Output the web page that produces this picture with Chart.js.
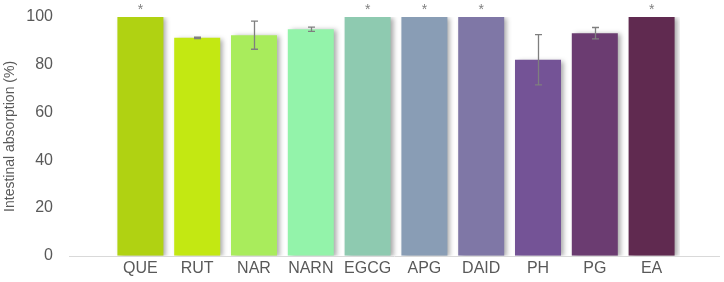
<!DOCTYPE html>
<html>
<head>
<meta charset="utf-8">
<script src="https://cdn.jsdelivr.net/npm/chart.js@4.4.1/dist/chart.umd.min.js"></script>
<style>
  html, body { margin: 0; padding: 0; background: #fff; }
  #wrap { width: 724px; height: 282px; }
</style>
</head>
<body>
<div id="wrap"><canvas id="chart"></canvas></div>
<script>
const categories = ['QUE', 'RUT', 'NAR', 'NARN', 'EGCG', 'APG', 'DAID', 'PH', 'PG', 'EA'];
const absorption = [100, 91.3, 92.4, 94.9, 100, 100, 100, 82.1, 93.2, 100];
const errors = [0, 0.3, 5.9, 0.9, 0, 0, 0, 10.5, 2.4, 0];
const starred = [true, false, false, false, true, true, true, false, false, true];
const barColors = ['#b0d212', '#c3e812', '#a9ec5c', '#93f3aa', '#8ecab0',
                   '#899db5', '#7f77a6', '#745396', '#6b3c71', '#602a50'];

const textColor = '#595959';
const fontFamily = '"Liberation Sans", Arial, sans-serif';

// soft drop shadow to the right of each bar
const shadowPlugin = {
  id: 'barShadow',
  beforeDatasetsDraw(chart) {
    const ctx = chart.ctx;
    ctx.save();
    ctx.shadowColor = 'rgba(0,0,0,0.35)';
    ctx.shadowBlur = 5;
    ctx.shadowOffsetX = 3;
    ctx.shadowOffsetY = 1;
  },
  afterDatasetsDraw(chart) {
    chart.ctx.restore();
  }
};

// x baseline runs wider than the bars, as in the original
const baselinePlugin = {
  id: 'baseline',
  beforeDatasetsDraw(chart) {
    const ctx = chart.ctx;
    const y0 = Math.round(chart.scales.y.getPixelForValue(0)) + 0.5;
    ctx.save();
    ctx.strokeStyle = '#d9d9d9';
    ctx.lineWidth = 1;
    ctx.beginPath();
    ctx.moveTo(69, y0);
    ctx.lineTo(720, y0);
    ctx.stroke();
    ctx.restore();
  }
};

// error bars and significance stars
const extrasPlugin = {
  id: 'extras',
  afterDatasetsDraw(chart) {
    const ctx = chart.ctx;
    const y = chart.scales.y;
    const meta = chart.getDatasetMeta(0);
    ctx.save();
    ctx.strokeStyle = '#7f7f7f';
    ctx.lineWidth = 1.3;
    meta.data.forEach((bar, i) => {
      const err = errors[i];
      if (err > 0) {
        const top = y.getPixelForValue(absorption[i] + err);
        const bot = y.getPixelForValue(absorption[i] - err);
        const x = Math.round(bar.x) + 0.5;
        ctx.beginPath();
        ctx.moveTo(x, top); ctx.lineTo(x, bot);
        ctx.moveTo(x - 3.5, top); ctx.lineTo(x + 3.5, top);
        ctx.moveTo(x - 3.5, bot); ctx.lineTo(x + 3.5, bot);
        ctx.stroke();
      }
      if (starred[i]) {
        ctx.fillStyle = '#7f7f7f';
        ctx.font = '14px ' + fontFamily;
        ctx.textAlign = 'center';
        ctx.textBaseline = 'alphabetic';
        ctx.fillText('*', bar.x, y.getPixelForValue(absorption[i]) - 3);
      }
    });
    ctx.restore();
  }
};

new Chart(document.getElementById('chart'), {
  type: 'bar',
  data: {
    labels: categories,
    datasets: [{
      data: absorption,
      backgroundColor: barColors,
      borderWidth: 0,
      categoryPercentage: 1,
      barPercentage: 0.81
    }]
  },
  options: {
    responsive: true,
    maintainAspectRatio: false,
    animation: false,
    layout: { padding: { top: 17, right: 44, left: 0, bottom: 1 } },
    plugins: { legend: { display: false }, tooltip: { enabled: false } },
    scales: {
      x: {
        grid: { display: false, drawTicks: false },
        border: { display: false },
        ticks: {
          color: textColor,
          padding: 3,
          maxRotation: 0,
          minRotation: 0,
          autoSkip: false,
          font: { family: fontFamily, size: 16 }
        }
      },
      y: {
        min: 0,
        max: 100,
        grid: { display: false, drawTicks: false },
        border: { display: false },
        afterFit(scale) {
          // wide label gap, without the tick padding spilling into top/bottom
          scale.width = 112;
          scale.paddingTop = 9;
          scale.paddingBottom = 9;
        },
        ticks: {
          stepSize: 20,
          color: textColor,
          padding: 59,
          font: { family: fontFamily, size: 16 }
        },
        title: {
          display: true,
          text: 'Intestinal absorption (%)',
          color: textColor,
          padding: { top: 2, bottom: 0 },
          font: { family: fontFamily, size: 14 }
        }
      }
    }
  },
  plugins: [baselinePlugin, shadowPlugin, extrasPlugin]
});
</script>
</body>
</html>
